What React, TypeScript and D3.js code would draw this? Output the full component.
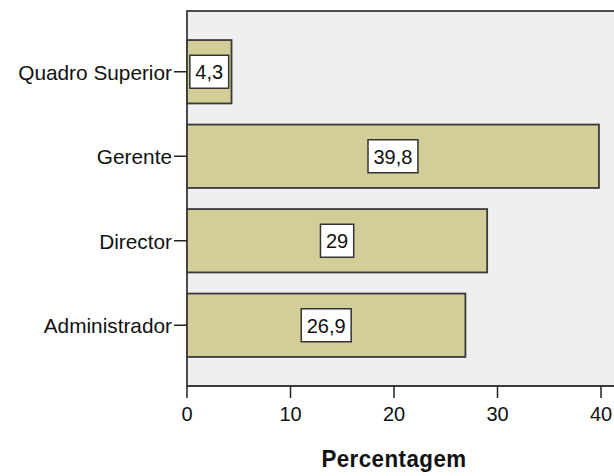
import React from "react";
import * as d3 from "d3";

const categories = ["Quadro Superior", "Gerente", "Director", "Administrador"];
const percentages = [4.3, 39.8, 29, 26.9];
const valueLabels = ["4,3", "39,8", "29", "26,9"];
const xTicks = [0, 10, 20, 30, 40];
const axisTitle = "Percentagem";

const W = 614;
const H = 476;
const plot = { left: 187, top: 11, right: 620, bottom: 386 };

// rough Arial advance widths (em) for the value-label boxes
const charWidth = (ch: string) => (ch === "," || ch === "." ? 0.278 : 0.556);
const textWidth = (s: string, size: number) =>
  s.split("").reduce((a, ch) => a + charWidth(ch), 0) * size;

export default function App() {
  const x = d3.scaleLinear().domain([0, 40]).range([187, 601]);
  const y = d3
    .scaleBand<string>()
    .domain(categories)
    .range([29.5, 367.5])
    .paddingInner(0.25)
    .paddingOuter(0.125);

  const font = "'Liberation Sans', Arial, sans-serif";
  const fs = 20;

  return (
    <svg
      width={W}
      height={H}
      style={{ position: "absolute", left: 0, top: 0, background: "#fff" }}
      fontFamily={font}
    >
      <rect
        x={plot.left}
        y={plot.top}
        width={plot.right - plot.left}
        height={plot.bottom - plot.top}
        fill="#efefef"
        stroke="#3a3a3a"
        strokeWidth={1.8}
      />
      {categories.map((c, i) => {
        const y0 = y(c)!;
        const bh = y.bandwidth();
        const x1 = x(percentages[i]);
        const cx = (x(0) + x1) / 2;
        const cy = y0 + bh / 2;
        const lbl = valueLabels[i];
        const bw = textWidth(lbl, fs) + 11;
        const boxH = 33;
        return (
          <g key={c}>
            <rect
              x={x(0)}
              y={y0}
              width={x1 - x(0)}
              height={bh}
              fill="#d3ce98"
              stroke="#3a3a3a"
              strokeWidth={1.8}
            />
            <line x1={174} x2={x(0)} y1={cy} y2={cy} stroke="#222" strokeWidth={1.5} />
            <text x={172} y={cy + 8} textAnchor="end" fontSize={fs + 0.8} fill="#111">
              {c}
            </text>
            <rect
              x={cx - bw / 2}
              y={cy - boxH / 2}
              width={bw}
              height={boxH}
              fill="#fff"
              stroke="#333"
              strokeWidth={1.5}
            />
            <text x={cx} y={cy + 7.5} textAnchor="middle" fontSize={fs} fill="#111">
              {lbl}
            </text>
          </g>
        );
      })}
      <line x1={plot.left} x2={W} y1={plot.bottom} y2={plot.bottom} stroke="#3a3a3a" strokeWidth={1.8} />
      {xTicks.map((t) => (
        <g key={t}>
          <line x1={x(t)} x2={x(t)} y1={plot.bottom} y2={plot.bottom + 12} stroke="#222" strokeWidth={1.5} />
          <text x={x(t)} y={421} textAnchor="middle" fontSize={fs} fill="#111">
            {t}
          </text>
        </g>
      ))}
      <text
        x={394}
        y={467}
        textAnchor="middle"
        fontSize={24}
        fontWeight="bold"
        fill="#111"
        letterSpacing={0.5}
        transform="translate(394,0) scale(0.93,1) translate(-394,0)"
      >
        {axisTitle}
      </text>
    </svg>
  );
}
